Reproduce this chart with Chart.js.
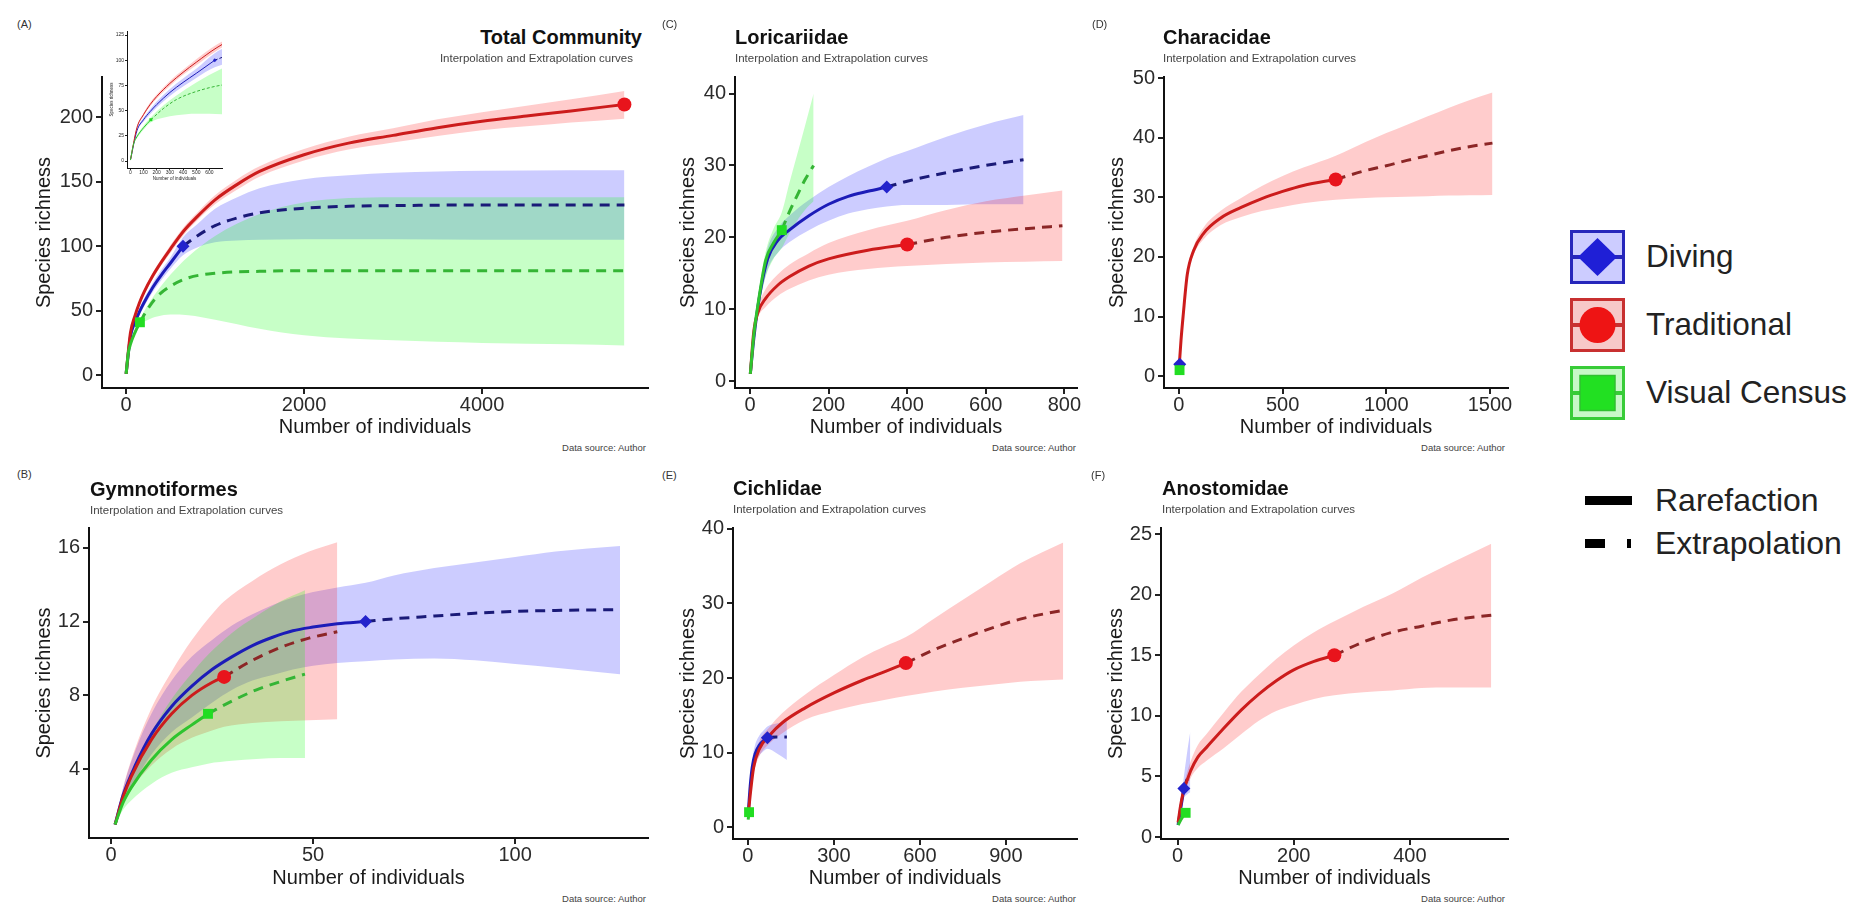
<!DOCTYPE html>
<html><head><meta charset="utf-8">
<script src="https://cdn.jsdelivr.net/npm/chart.js@4.4.1/dist/chart.umd.min.js"></script>
<style>
html,body{margin:0;padding:0;background:#fff;}
#root{position:relative;width:1858px;height:904px;overflow:hidden;background:#fff;font-family:'Liberation Sans',Arial,sans-serif;}
canvas{position:absolute;}
.t{position:absolute;white-space:nowrap;}
</style></head><body><div id="root"></div>
<script>
// ===================== DATA =====================
// Panel A - Total Community
const A_trad_x  = [1, 50, 100, 150, 200, 300, 400, 500, 650, 800, 1000, 1250, 1500, 2000, 2500, 3000, 3500, 4000, 4500, 5000, 5600];
const A_trad_y  = [1, 33, 46, 56, 64, 77, 88, 98, 112, 123, 136, 148, 158, 171, 180, 186, 192, 197, 201, 205, 210];
const A_trad_lo = [1, 32, 44.5, 54, 62, 74.5, 85.5, 95, 109, 120, 132.5, 144, 154, 166.5, 175, 180.5, 185.5, 190, 193, 196, 199];
const A_trad_hi = [1, 34, 47.5, 58, 66, 79.5, 90.5, 101, 115, 126, 139.5, 152, 162, 175.5, 185, 191.5, 198.5, 204, 209, 214, 220.5];
const A_trad_obs = 5600;
const A_div_x  = [1, 50, 100, 150, 200, 300, 400, 500, 640, 800, 1000, 1250, 1500, 2000, 2500, 3000, 4000, 5000, 5600];
const A_div_y  = [1, 30, 41, 49, 56, 68, 78, 87, 100, 108, 116, 122, 126, 129.5, 131, 131.5, 132, 132, 132];
const A_div_lo = [1, 29, 39, 46.5, 53, 64.5, 74, 82.5, 93, 99, 103, 104.5, 105, 105.5, 105.5, 105.5, 105, 105, 105];
const A_div_hi = [1, 31, 43, 51.5, 59, 71.5, 82, 91.5, 107, 117, 129, 138, 145, 152, 155, 157, 158.5, 159, 159];
const A_div_obs = 640;
const A_vis_x  = [1, 25, 50, 100, 156, 250, 350, 500, 700, 1000, 1500, 2000, 3000, 4000, 5000, 5600];
const A_vis_y  = [1, 17, 24, 33, 41, 52, 61, 69, 75.5, 79, 80.5, 81, 81, 81, 81, 81];
const A_vis_lo = [1, 16, 22.5, 31, 38.5, 43, 45.5, 47, 46.5, 43, 36, 31, 27, 25, 24, 23];
const A_vis_hi = [1, 18, 25.5, 35, 43.5, 55, 65, 78, 92, 108, 125, 134, 138, 138, 138, 138];
const A_vis_obs = 156;
const A_xticks = [0, 2000, 4000];
const A_yticks = [0, 50, 100, 150, 200];
const Ainset_xticks = [0, 100, 200, 300, 400, 500, 600];
const Ainset_yticks = [0, 25, 50, 75, 100, 125];

// Panel B - Gymnotiformes
const B_div_x  = [1, 3, 6, 10, 15, 20, 25, 30, 35, 40, 45, 50, 56, 63, 70, 80, 90, 100, 110, 126];
const B_div_y  = [1, 2.6, 4.2, 5.9, 7.4, 8.5, 9.4, 10.1, 10.7, 11.15, 11.5, 11.7, 11.88, 12, 12.15, 12.3, 12.45, 12.55, 12.6, 12.65];
const B_div_lo = [1, 2.2, 3.4, 4.8, 6.0, 6.8, 7.6, 8.3, 8.8, 9.1, 9.4, 9.6, 9.75, 9.85, 9.95, 10, 9.9, 9.7, 9.5, 9.15];
const B_div_hi = [1, 3.0, 5.0, 7.0, 8.8, 10.1, 11.0, 11.8, 12.4, 12.9, 13.3, 13.6, 13.85, 14.1, 14.5, 14.9, 15.2, 15.5, 15.8, 16.1];
const B_div_obs = 63;
const B_trad_x  = [1, 3, 5, 10, 15, 20, 25, 28, 35, 42, 49, 56];
const B_trad_y  = [1, 2.5, 3.6, 5.6, 7.0, 8.0, 8.7, 9.0, 9.9, 10.6, 11.1, 11.45];
const B_trad_lo = [1, 2.1, 2.9, 4.2, 5.1, 5.7, 6.1, 6.3, 6.5, 6.6, 6.65, 6.7];
const B_trad_hi = [1, 3.0, 4.5, 7.3, 9.3, 11.0, 12.4, 13.1, 14.2, 15.1, 15.8, 16.3];
const B_trad_obs = 28;
const B_vis_x  = [1, 3, 5, 10, 15, 20, 24, 30, 36, 42, 48];
const B_vis_y  = [1, 2.2, 3.0, 4.5, 5.6, 6.4, 7.0, 7.7, 8.3, 8.75, 9.15];
const B_vis_lo = [1, 1.8, 2.3, 3.2, 3.8, 4.1, 4.3, 4.45, 4.55, 4.6, 4.6];
const B_vis_hi = [1, 2.6, 3.8, 6.0, 7.8, 9.2, 10.2, 11.4, 12.3, 13.1, 13.7];
const B_vis_obs = 24;
const B_xticks = [0, 50, 100];
const B_yticks = [4, 8, 12, 16];

// Panel C - Loricariidae
const C_trad_x  = [1, 10, 20, 40, 70, 100, 150, 200, 300, 400, 500, 600, 700, 795];
const C_trad_y  = [1, 7, 9.5, 11.5, 13.3, 14.5, 16, 17, 18.2, 19, 20, 20.7, 21.2, 21.6];
const C_trad_lo = [1, 6.5, 8.8, 10.3, 11.8, 12.8, 14, 14.8, 15.6, 16, 16.3, 16.5, 16.6, 16.7];
const C_trad_hi = [1, 7.5, 10.3, 12.8, 14.8, 16.2, 17.8, 19.2, 21, 22.3, 23.8, 25, 25.8, 26.5];
const C_trad_obs = 400;
const C_div_x  = [1, 10, 25, 45, 70, 100, 150, 200, 250, 300, 348, 400, 500, 600, 696];
const C_div_y  = [1, 6, 12, 17, 19.5, 21, 23, 24.6, 25.7, 26.4, 27, 27.8, 29, 30, 30.8];
const C_div_lo = [1, 5.5, 11, 15.5, 17.8, 19.3, 21, 22.3, 23.3, 23.9, 24.3, 24.5, 24.5, 24.6, 24.6];
const C_div_hi = [1, 6.5, 13, 18.5, 21.2, 23, 25.2, 27, 28.5, 29.8, 31, 32, 34, 35.7, 37];
const C_div_obs = 348;
const C_vis_x  = [1, 10, 20, 40, 60, 81, 100, 120, 140, 162];
const C_vis_y  = [1, 6.5, 10.5, 16.8, 19.2, 21, 23.5, 25.8, 28, 30];
const C_vis_lo = [1, 6, 9.5, 14.5, 17, 18.5, 20.5, 22.3, 23.8, 25];
const C_vis_hi = [1, 7, 11.5, 18, 21.2, 23.5, 27.5, 31.5, 35.5, 40];
const C_vis_obs = 81;
const C_xticks = [0, 200, 400, 600, 800];
const C_yticks = [0, 10, 20, 30, 40];

// Panel D - Characidae
const D_trad_x  = [2, 10, 20, 40, 70, 120, 200, 300, 400, 500, 600, 756, 900, 1000, 1100, 1200, 1300, 1400, 1512];
const D_trad_y  = [2, 6, 10, 17, 21, 24, 26.5, 28.3, 29.8, 31, 32, 33, 34.5, 35.3, 36.2, 37, 37.8, 38.5, 39.1];
const D_trad_lo = [2, 5.8, 9.7, 16.5, 20.3, 23, 25.3, 26.7, 27.7, 28.4, 29, 29.6, 29.9, 30, 30.1, 30.2, 30.3, 30.35, 30.4];
const D_trad_hi = [2, 6.2, 10.3, 17.5, 21.7, 25, 27.7, 29.9, 31.9, 33.6, 35, 37, 39.3, 40.8, 42.2, 43.6, 45, 46.3, 47.6];
const D_trad_obs = 756;
const D_div_x  = [1, 4];
const D_div_y  = [1, 2];
const D_div_lo = [1, 2];
const D_div_hi = [1, 2];
const D_div_obs = 4;
const D_vis_x  = [1, 3];
const D_vis_y  = [1, 1];
const D_vis_lo = [1, 1];
const D_vis_hi = [1, 1];
const D_vis_obs = 3;
const D_xticks = [0, 500, 1000, 1500];
const D_yticks = [0, 10, 20, 30, 40, 50];

// Panel E - Cichlidae
const E_trad_x  = [2, 10, 20, 40, 75, 120, 200, 300, 400, 480, 551, 650, 750, 850, 950, 1100];
const E_trad_y  = [2, 5, 8, 10.5, 12.3, 14, 16, 18, 19.7, 20.9, 22, 23.8, 25.3, 26.7, 27.9, 29.1];
const E_trad_lo = [2, 4.6, 7.2, 9.5, 11.2, 12.6, 14.4, 15.6, 16.5, 17.1, 17.6, 18.2, 18.7, 19.1, 19.5, 19.8];
const E_trad_hi = [2, 5.4, 8.8, 11.5, 13.4, 15.3, 17.8, 20.4, 22.8, 24.3, 25.5, 28, 30.5, 33, 35.4, 38.2];
const E_trad_obs = 551;
const E_div_x  = [2, 8, 15, 25, 40, 55, 68, 100, 136];
const E_div_y  = [2.3, 5.5, 8, 9.8, 11, 11.6, 12, 12.1, 12.1];
const E_div_lo = [2.3, 5, 7, 8.5, 9.6, 10.2, 10.5, 9.9, 9.0];
const E_div_hi = [2.3, 6, 9, 11, 12.3, 13, 13.5, 13.9, 14.2];
const E_div_obs = 68;
const E_vis_x  = [1, 4];
const E_vis_y  = [1, 2];
const E_vis_lo = [1, 2];
const E_vis_hi = [1, 2];
const E_vis_obs = 4;
const E_xticks = [0, 300, 600, 900];
const E_yticks = [0, 10, 20, 30, 40];

// Panel F - Anostomidae
const F_trad_x  = [1, 5, 10, 23, 35, 50, 80, 110, 140, 170, 200, 235, 270, 320, 370, 420, 470, 540];
const F_trad_y  = [1.2, 2.5, 3.7, 5.5, 6.6, 7.4, 9, 10.5, 11.8, 12.9, 13.8, 14.5, 15, 16.1, 16.9, 17.4, 17.9, 18.3];
const F_trad_lo = [1.2, 2.3, 3.3, 4.9, 5.7, 6.3, 7.35, 8.5, 9.6, 10.4, 10.9, 11.4, 11.7, 11.95, 12.1, 12.3, 12.35, 12.35];
const F_trad_hi = [1.2, 2.7, 4.1, 6.3, 7.6, 8.5, 10.3, 12, 13.4, 14.7, 15.8, 16.9, 17.8, 19, 20.1, 21.4, 22.6, 24.2];
const F_trad_obs = 270;
const F_div_x  = [1, 5, 8, 11, 16, 22];
const F_div_y  = [1, 2.2, 3.1, 4, 4.7, 5.2];
const F_div_lo = [1, 1.8, 2.5, 3.2, 3.5, 3.7];
const F_div_hi = [1, 2.6, 3.8, 5, 6.8, 8.7];
const F_div_obs = 11;
const F_vis_x  = [1, 8, 14];
const F_vis_y  = [1, 1.6, 2];
const F_vis_lo = [1, 1.6, 2];
const F_vis_hi = [1, 1.6, 2];
const F_vis_obs = 14;
const F_xticks = [0, 200, 400];
const F_yticks = [0, 5, 10, 15, 20, 25];

const legendLabels = ['Diving', 'Traditional', 'Visual Census'];
const lineTypeLabels = ['Rarefaction', 'Extrapolation'];

// ===================== STYLE / RENDER =====================
const FONT = "'Liberation Sans', Arial, sans-serif";
const STYLE = {
  div:  {line:'#1c1cb8', dash:'#1a1a78', band:'rgba(0,0,255,0.2)', pt:'#2323cc', shape:'rectRot', r:6.5, o:30},
  trad: {line:'#cc1c1c', dash:'#8c2626', band:'rgba(255,0,0,0.2)', pt:'#e8141c', shape:'circle', r:7, o:20},
  vis:  {line:'#2fc42f', dash:'#35b535', band:'rgba(0,255,0,0.22)', pt:'#22dd22', shape:'rect', r:7, o:10}
};
function S(kind, x, y, lo, hi, obs){ return {kind, x, y, lo, hi, obs}; }

function buildDatasets(series, sc){
  const out = [];
  series.forEach(s => {
    const st = STYLE[s.kind];
    out.push({data: s.x.map((x,i)=>({x, y:s.lo[i]})), borderWidth:0, pointRadius:0, fill:false, order:300+st.o, cubicInterpolationMode:'monotone'});
    out.push({data: s.x.map((x,i)=>({x, y:s.hi[i]})), borderWidth:0, pointRadius:0, fill:'-1', backgroundColor: st.band, order:300+st.o, cubicInterpolationMode:'monotone'});
  });
  series.forEach(s => {
    const st = STYLE[s.kind];
    const pts = s.x.map((x,i)=>({x, y:s.y[i]}));
    const solid = pts.filter(p=>p.x<=s.obs), dashed = pts.filter(p=>p.x>=s.obs);
    if (solid.length>1) out.push({data: solid, borderColor: st.line, borderWidth: sc.lw, pointRadius:0, fill:false, order:200+st.o, cubicInterpolationMode:'monotone'});
    if (dashed.length>1) out.push({data: dashed, borderColor: st.dash, borderWidth: sc.lw, borderDash: sc.dash, pointRadius:0, fill:false, order:200+st.o, cubicInterpolationMode:'monotone'});
  });
  series.forEach(s => {
    const st = STYLE[s.kind];
    const i = s.x.indexOf(s.obs);
    out.push({data:[{x:s.obs, y:s.y[i]}], showLine:false, pointStyle: st.shape, pointRadius: st.r*sc.pr, pointBackgroundColor: st.pt, pointBorderColor: st.pt, pointBorderWidth:0, order:100+st.o});
  });
  return out;
}

const root = document.getElementById('root');

function makeChart(g, series, ax, sc){
  const pt = g.pt, pr = g.pr;
  const left = g.X0 - g.yw, top = g.Y0 - pt;
  const w = g.X1 + pr - left, h = g.Y1 + g.xh - top;
  const cv = document.createElement('canvas');
  cv.width = w; cv.height = h;
  cv.style.left = left+'px'; cv.style.top = top+'px';
  cv.style.width = w+'px'; cv.style.height = h+'px';
  if (g.z) cv.style.zIndex = g.z;
  root.appendChild(cv);
  const tickFont = {family: FONT, size: sc.tf, lineHeight: 1};
  const titleFont = {family: FONT, size: sc.ttf, lineHeight: 1};
  const gridOpt = {display:true, drawOnChartArea:false, drawTicks:true, tickLength: sc.tl, color:'#222', lineWidth: sc.al};
  const borderOpt = {display:true, color:'#111', width: sc.al};
  new Chart(cv, {
    type:'line',
    data:{datasets: buildDatasets(series, sc)},
    options:{
      responsive:false, maintainAspectRatio:false, animation:false, devicePixelRatio:1,
      layout:{padding:{left:0, top:pt, right:pr, bottom:0}},
      plugins:{legend:{display:false}, tooltip:{enabled:false}, title:{display:false}},
      scales:{
        x:{type:'linear', min: ax.xmin, max: ax.xmax,
           afterBuildTicks: s => { s.ticks = ax.xt.map(v=>({value:v})); },
           afterFit: s => { s.height = g.xh; },
           ticks:{font: tickFont, color:'#2b2b2b', padding: sc.xpad, maxRotation:0, autoSkip:false, callback: v => String(v)},
           grid: gridOpt, border: borderOpt,
           title:{display:true, text:'Number of individuals', font: titleFont, color:'#1a1a1a', padding:{top:0, bottom: g.xtp}}},
        y:{type:'linear', min: ax.ymin, max: ax.ymax,
           afterBuildTicks: s => { s.ticks = ax.yt.map(v=>({value:v})); },
           afterFit: s => { s.width = g.yw; },
           ticks:{font: tickFont, color:'#2b2b2b', padding: sc.ypad, autoSkip:false, callback: v => String(v)},
           grid: gridOpt, border: borderOpt,
           title:{display:true, text:'Species richness', font: titleFont, color:'#1a1a1a', padding:{top: g.ytp, bottom:0}}}
      }
    }
  });
}

const MAIN = {lw:3, dash:[10,7], pr:1, tf:20, ttf:20, tl:6, al:2, xpad:1, ypad:3};
const INSET = {lw:1, dash:[3,2], pr:0.3, tf:5, ttf:4.5, tl:2, al:1, xpad:0.5, ypad:1};

function geom(X0, X1, Y0, Y1, ytx, xtx){
  const yw = 72, xh = 52;
  return {X0, X1, Y0, Y1, yw, xh, pt:8, pr:8,
          ytp: (ytx - (X0 - yw)) - 10, xtp: (Y1 + xh) - xtx - 10};
}

// Panel A
const A_series = [S('div',A_div_x,A_div_y,A_div_lo,A_div_hi,A_div_obs), S('trad',A_trad_x,A_trad_y,A_trad_lo,A_trad_hi,A_trad_obs), S('vis',A_vis_x,A_vis_y,A_vis_lo,A_vis_hi,A_vis_obs)];
makeChart(geom(102, 648, 72, 388, 44, 427), A_series, {xmin:-270, xmax:5865, ymin:-10, ymax:231.3, xt:A_xticks, yt:A_yticks}, MAIN);
// Inset of panel A
makeChart({X0:127, X1:223, Y0:30, Y1:168, yw:22, xh:16, pt:3, pr:3, ytp:5, xtp:2.8, z:5}, A_series,
          {xmin:-25, xmax:695, ymin:-6.9, ymax:129, xt:Ainset_xticks, yt:Ainset_yticks}, INSET);
// Panel C
makeChart(geom(735, 1077, 72, 388, 688, 427), [S('div',C_div_x,C_div_y,C_div_lo,C_div_hi,C_div_obs), S('trad',C_trad_x,C_trad_y,C_trad_lo,C_trad_hi,C_trad_obs), S('vis',C_vis_x,C_vis_y,C_vis_lo,C_vis_hi,C_vis_obs)],
          {xmin:-38, xmax:832, ymin:-0.96, ymax:42.3, xt:C_xticks, yt:C_yticks}, MAIN);
// Panel D
makeChart(geom(1164, 1508, 72, 388, 1117, 427), [S('div',D_div_x,D_div_y,D_div_lo,D_div_hi,D_div_obs), S('trad',D_trad_x,D_trad_y,D_trad_lo,D_trad_hi,D_trad_obs), S('vis',D_vis_x,D_vis_y,D_vis_lo,D_vis_hi,D_vis_obs)],
          {xmin:-72, xmax:1587, ymin:-2, ymax:50.2, xt:D_xticks, yt:D_yticks}, MAIN);
// Panel B
makeChart(geom(89, 648, 523, 838, 44, 878), [S('div',B_div_x,B_div_y,B_div_lo,B_div_hi,B_div_obs), S('trad',B_trad_x,B_trad_y,B_trad_lo,B_trad_hi,B_trad_obs), S('vis',B_vis_x,B_vis_y,B_vis_lo,B_vis_hi,B_vis_obs)],
          {xmin:-5.45, xmax:132.9, ymin:0.27, ymax:17.07, xt:B_xticks, yt:B_yticks}, MAIN);
// Panel E
makeChart(geom(733, 1077, 523, 839, 688, 878), [S('div',E_div_x,E_div_y,E_div_lo,E_div_hi,E_div_obs), S('trad',E_trad_x,E_trad_y,E_trad_lo,E_trad_hi,E_trad_obs), S('vis',E_vis_x,E_vis_y,E_vis_lo,E_vis_hi,E_vis_obs)],
          {xmin:-52, xmax:1148, ymin:-1.6, ymax:40.13, xt:E_xticks, yt:E_yticks}, MAIN);
// Panel F
makeChart(geom(1161, 1508, 523, 839, 1116, 878), [S('div',F_div_x,F_div_y,F_div_lo,F_div_hi,F_div_obs), S('trad',F_trad_x,F_trad_y,F_trad_lo,F_trad_hi,F_trad_obs), S('vis',F_vis_x,F_vis_y,F_vis_lo,F_vis_hi,F_vis_obs)],
          {xmin:-28.4, xmax:568.8, ymin:-0.16, ymax:25.5, xt:F_xticks, yt:F_yticks}, MAIN);

// ---------- Text ----------
function txt(s, x, cy, size, o){
  o = o || {};
  const d = document.createElement('div'); d.className = 't'; d.textContent = s;
  d.style.fontSize = size+'px'; d.style.lineHeight = size+'px';
  d.style.top = (cy - size/2)+'px';
  if (o.align === 'right') d.style.right = (1858 - x)+'px'; else d.style.left = x+'px';
  d.style.color = o.color || '#222';
  if (o.bold) d.style.fontWeight = 'bold';
  if (o.z) d.style.zIndex = o.z;
  root.appendChild(d);
}
const SUB = 'Interpolation and Extrapolation curves', SRC = 'Data source: Author';
txt('(A)', 17, 24, 11, {color:'#333'});
txt('Total Community', 642, 37, 20, {bold:true, align:'right', color:'#111'});
txt(SUB, 633, 59, 11.5, {align:'right', color:'#444'});
txt(SRC, 646, 448, 9.5, {align:'right', color:'#444'});
txt('(C)', 662, 24, 11, {color:'#333'});
txt('Loricariidae', 735, 37, 20, {bold:true, color:'#111'});
txt(SUB, 735, 59, 11.5, {color:'#444'});
txt(SRC, 1076, 448, 9.5, {align:'right', color:'#444'});
txt('(D)', 1092, 24, 11, {color:'#333'});
txt('Characidae', 1163, 37, 20, {bold:true, color:'#111'});
txt(SUB, 1163, 59, 11.5, {color:'#444'});
txt(SRC, 1505, 448, 9.5, {align:'right', color:'#444'});
txt('(B)', 17, 474, 11, {color:'#333'});
txt('Gymnotiformes', 90, 489, 20, {bold:true, color:'#111'});
txt(SUB, 90, 511, 11.5, {color:'#444'});
txt(SRC, 646, 899, 9.5, {align:'right', color:'#444'});
txt('(E)', 662, 475, 11, {color:'#333'});
txt('Cichlidae', 733, 488, 20, {bold:true, color:'#111'});
txt(SUB, 733, 510, 11.5, {color:'#444'});
txt(SRC, 1076, 899, 9.5, {align:'right', color:'#444'});
txt('(F)', 1091, 475, 11, {color:'#333'});
txt('Anostomidae', 1162, 488, 20, {bold:true, color:'#111'});
txt(SUB, 1162, 510, 11.5, {color:'#444'});
txt(SRC, 1505, 899, 9.5, {align:'right', color:'#444'});

// ---------- Legend ----------
function key(top, svgInner){
  const d = document.createElement('div');
  d.style.position='absolute'; d.style.left='1570px'; d.style.top=top+'px';
  d.innerHTML = '<svg width="56" height="55" viewBox="0 0 56 55">'+svgInner+'</svg>';
  root.appendChild(d);
}
key(230, '<rect x="1.5" y="1.5" width="52" height="51" fill="#ccccff" stroke="#2626bb" stroke-width="3"/>'+
          '<line x1="3" y1="27" x2="53" y2="27" stroke="#2626bb" stroke-width="4"/>'+
          '<polygon points="27.5,8 47,27 27.5,46 8,27" fill="#1f1fd6"/>');
key(298, '<rect x="1.5" y="1.5" width="52" height="51" fill="#f7c8c8" stroke="#c83030" stroke-width="3"/>'+
          '<line x1="3" y1="27" x2="53" y2="27" stroke="#c83030" stroke-width="4"/>'+
          '<circle cx="27.5" cy="27" r="18" fill="#ee1414"/>');
key(366, '<rect x="1.5" y="1.5" width="52" height="51" fill="#c8f8c8" stroke="#38cc38" stroke-width="3"/>'+
          '<line x1="3" y1="27" x2="53" y2="27" stroke="#38cc38" stroke-width="4"/>'+
          '<rect x="10" y="9.5" width="35" height="35" fill="#22e022" stroke="#30c030" stroke-width="1.5"/>');
txt(legendLabels[0], 1646, 257, 31.5, {color:'#222'});
txt(legendLabels[1], 1646, 325, 31.5, {color:'#222'});
txt(legendLabels[2], 1646, 393, 31.5, {color:'#222'});
function bar(x, y, w, h){
  const d = document.createElement('div');
  d.style.position='absolute'; d.style.left=x+'px'; d.style.top=(y-h/2)+'px';
  d.style.width=w+'px'; d.style.height=h+'px'; d.style.background='#000';
  root.appendChild(d);
}
bar(1585, 500, 47, 9);
bar(1585, 543, 20, 9);
bar(1627, 543, 4, 9);
txt(lineTypeLabels[0], 1655, 500, 32, {color:'#222'});
txt(lineTypeLabels[1], 1655, 543, 32, {color:'#222'});
</script></body></html>
